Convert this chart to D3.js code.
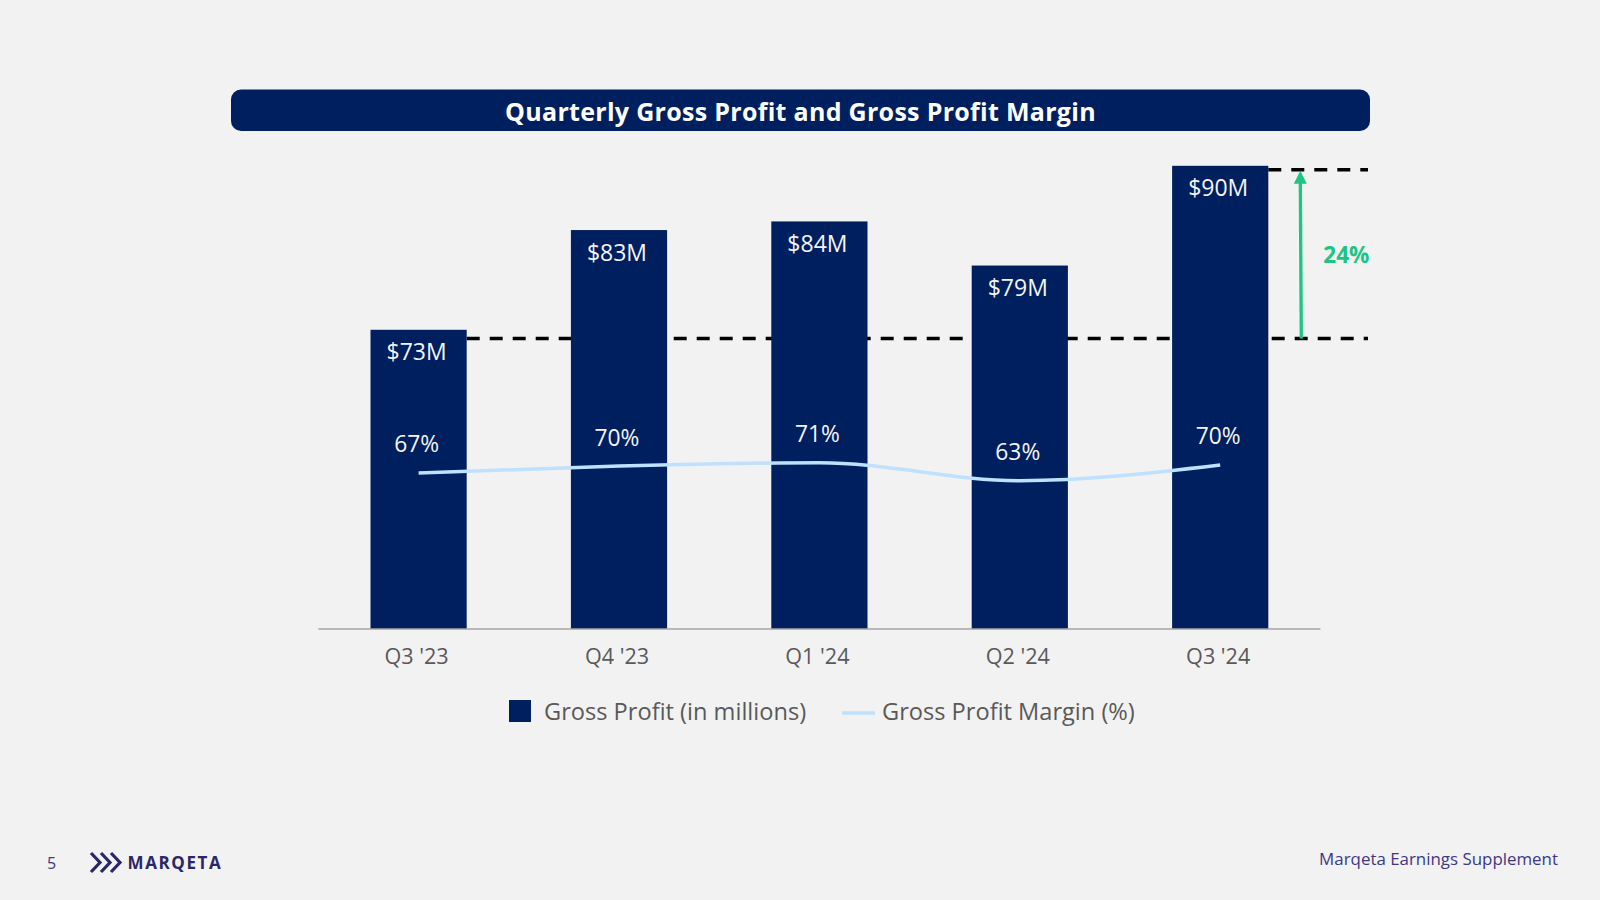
<!DOCTYPE html>
<html>
<head>
<meta charset="utf-8">
<script src="https://cdn.jsdelivr.net/npm/d3@7"></script>
<style>
  html, body { margin: 0; padding: 0; background: #F2F2F2; }
  svg { display: block; }
  text { font-family: "Open Sans", "Noto Sans", sans-serif; }
</style>
</head>
<body>
<svg id="chart" width="1600" height="900"></svg>
<script>
// ---- Data ----
const quarters = ["Q3 '23", "Q4 '23", "Q1 '24", "Q2 '24", "Q3 '24"];
const grossProfit = [72.7, 83.1, 84.0, 79.4, 89.8];          // $ millions
const profitLabels = ["$73M", "$83M", "$84M", "$79M", "$90M"];
const grossMargin = [66.6, 69.6, 71.1, 63.2, 70.1];          // %
const marginLabels = ["67%", "70%", "71%", "63%", "70%"];
const compareLevels = [71.8, 89.4];                          // dashed reference lines
const growthLabel = "24%";
const titleText = "Quarterly Gross Profit and Gross Profit Margin";
const legendLabels = ["Gross Profit (in millions)", "Gross Profit Margin (%)"];

// ---- Colors ----
const navy = "#001F5E";
const lineBlue = "#BDE1FF";
const green = "#1EC484";
const gray = "#595959";
const footerPurple = "#3D3884";

const svg = d3.select("#chart");
svg.append("rect").attr("width", 1600).attr("height", 900).attr("fill", "#F2F2F2");

// ---- Title bar ----
svg.append("rect")
  .attr("x", 231).attr("y", 89.5).attr("width", 1139).attr("height", 41.5)
  .attr("rx", 10).attr("fill", navy);
svg.append("text")
  .attr("x", 800.5).attr("y", 120.5)
  .attr("text-anchor", "middle")
  .attr("fill", "#ffffff")
  .attr("font-size", 25).attr("font-weight", 700)
  .attr("letter-spacing", 0.3)
  .text(titleText);

// ---- Scales ----
const x = d3.scaleBand().domain(quarters).range([318.4, 1320.4])
  .paddingInner(0.52).paddingOuter(0.26);
const y = d3.scaleLinear().domain([41.5, 100]).range([629, 629 - 58.5 * 9.59]);
const yM = d3.scaleLinear().domain([0, 100]).range([624.8, 396.8]);

const g = svg.append("g");

// ---- Dashed comparison lines (behind bars) ----
const lastX = x(quarters[4]) + x.bandwidth();
const dashData = [
  { x1: x(quarters[0]) + x.bandwidth(), x2: 1368, v: compareLevels[0] },
  { x1: lastX, x2: 1368, v: compareLevels[1] }
];
g.selectAll(".dash").data(dashData).join("line")
  .attr("x1", d => d.x1).attr("x2", d => d.x2)
  .attr("y1", d => y(d.v)).attr("y2", d => y(d.v))
  .attr("stroke", "#000").attr("stroke-width", 3.5)
  .attr("stroke-dasharray", "13,10");

// ---- Bars ----
g.selectAll(".bar").data(grossProfit).join("rect")
  .attr("x", (d, i) => x(quarters[i]))
  .attr("y", d => y(d))
  .attr("width", x.bandwidth())
  .attr("height", d => y(41.5) - y(d))
  .attr("fill", navy);

// bar value labels
g.selectAll(".blabel").data(grossProfit).join("text")
  .attr("x", (d, i) => x(quarters[i]) + x.bandwidth() / 2 - 2)
  .attr("y", d => y(d) + 30.5)
  .attr("text-anchor", "middle")
  .attr("fill", "#F4F4F4")
  .attr("font-size", 23)
  .text((d, i) => profitLabels[i]);

// ---- Axis line ----
g.append("line")
  .attr("x1", 318.4).attr("x2", 1320.4).attr("y1", 629).attr("y2", 629)
  .attr("stroke", "#A6A6A6").attr("stroke-width", 1.5);

// x tick labels
g.selectAll(".tick").data(quarters).join("text")
  .attr("x", d => x(d) + x.bandwidth() / 2 - 2)
  .attr("y", 663.5)
  .attr("text-anchor", "middle")
  .attr("fill", gray)
  .attr("font-size", 21.6)
  .text(d => d);

// ---- Margin line ----
const line = d3.line()
  .x((d, i) => x(quarters[i]) + x.bandwidth() / 2)
  .y(d => yM(d))
  .curve(d3.curveMonotoneX);
g.append("path").datum(grossMargin)
  .attr("d", line)
  .attr("fill", "none")
  .attr("stroke", lineBlue)
  .attr("stroke-width", 3.5);

g.selectAll(".mlabel").data(grossMargin).join("text")
  .attr("x", (d, i) => x(quarters[i]) + x.bandwidth() / 2 - 2)
  .attr("y", d => yM(d) - 20.5)
  .attr("text-anchor", "middle")
  .attr("fill", "#F4F4F4")
  .attr("font-size", 22.8)
  .text((d, i) => marginLabels[i]);

// ---- Growth arrow ----
const ax = lastX + 32;
const yLow = y(compareLevels[0]);
const yHigh = y(compareLevels[1]) + 1;
g.append("line")
  .attr("x1", ax + 1).attr("x2", ax)
  .attr("y1", yLow).attr("y2", yHigh + 10)
  .attr("stroke", green).attr("stroke-width", 3.3);
g.append("path")
  .attr("d", `M${ax},${yHigh} L${ax - 6.5},${yHigh + 13} L${ax + 6.5},${yHigh + 13} Z`)
  .attr("fill", green);
g.append("text")
  .attr("x", ax + 46).attr("y", (yLow + yHigh) / 2 + 8)
  .attr("text-anchor", "middle")
  .attr("fill", green)
  .attr("font-size", 22.5).attr("font-weight", 700)
  .text(growthLabel);

// ---- Legend ----
const leg = svg.append("g");
leg.append("rect").attr("x", 509).attr("y", 700).attr("width", 22).attr("height", 22).attr("fill", navy);
leg.append("text").attr("x", 544).attr("y", 719.5).attr("fill", gray).attr("font-size", 23.6)
  .text(legendLabels[0]);
leg.append("line").attr("x1", 842).attr("x2", 875).attr("y1", 713).attr("y2", 713)
  .attr("stroke", lineBlue).attr("stroke-width", 3.5);
leg.append("text").attr("x", 882).attr("y", 719.5).attr("fill", gray).attr("font-size", 23.6)
  .text(legendLabels[1]);

// ---- Footer ----
svg.append("text").attr("x", 51.5).attr("y", 869).attr("text-anchor", "middle")
  .attr("fill", footerPurple).attr("font-size", 16).text("5");

const logo = svg.append("g");
[0, 10, 20].forEach(dx => {
  logo.append("path")
    .attr("d", `M${91 + dx},853 L${100 + dx},862.5 L${91 + dx},872`)
    .attr("fill", "none").attr("stroke", "#2B2766").attr("stroke-width", 3.2)
    .attr("stroke-linejoin", "miter");
});
logo.append("text").attr("x", 127.5).attr("y", 868.5)
  .attr("fill", "#2B2766").attr("font-size", 17).attr("font-weight", 700)
  .attr("letter-spacing", 1.6)
  .text("MARQETA");

svg.append("text").attr("x", 1558).attr("y", 864.5).attr("text-anchor", "end")
  .attr("fill", footerPurple).attr("font-size", 16.9)
  .text("Marqeta Earnings Supplement");
</script>
</body>
</html>
